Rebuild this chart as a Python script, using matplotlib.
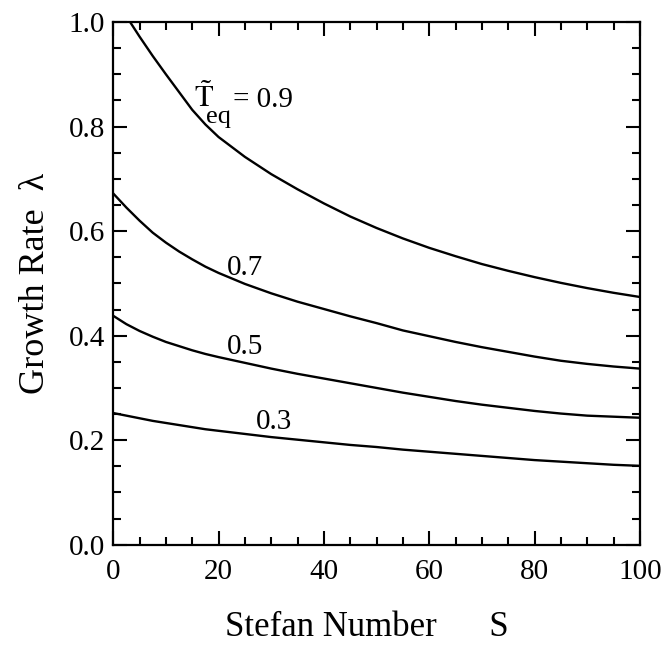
import matplotlib
matplotlib.use("Agg")
import matplotlib.pyplot as plt
from matplotlib.ticker import MultipleLocator

plt.rcParams['font.family'] = ['Liberation Serif', 'DejaVu Serif']
plt.rcParams['mathtext.fontset'] = 'stix'

# curves: growth rate vs Stefan number, one per T_eq
s_09 = [3.2, 5, 7.5, 10, 12.5, 15, 17.5, 20, 25, 30, 35, 40, 45, 50,
        55, 60, 65, 70, 75, 80, 85, 90, 95, 100]
lam_09 = [1.0, 0.972, 0.935, 0.900, 0.866, 0.832, 0.804, 0.780, 0.742, 0.709, 0.680, 0.653, 0.628, 0.606,
          0.586, 0.568, 0.552, 0.537, 0.524, 0.512, 0.501, 0.491, 0.482, 0.474]

s_std = [0, 2.5, 5, 7.5, 10, 12.5, 15, 17.5, 20, 25, 30, 35, 40, 45, 50,
         55, 60, 65, 70, 75, 80, 85, 90, 95, 100]
lam_07 = [0.672, 0.645, 0.620, 0.597, 0.578, 0.561, 0.546, 0.532, 0.520, 0.499, 0.481, 0.465, 0.451, 0.437, 0.424,
          0.410, 0.399, 0.388, 0.378, 0.369, 0.360, 0.352, 0.346, 0.341, 0.337]
lam_05 = [0.438, 0.422, 0.409, 0.398, 0.388, 0.380, 0.372, 0.365, 0.359, 0.348, 0.337, 0.327, 0.318, 0.309, 0.300,
          0.291, 0.283, 0.275, 0.268, 0.262, 0.256, 0.251, 0.247, 0.245, 0.243]
lam_03 = [0.252, 0.247, 0.242, 0.237, 0.233, 0.229, 0.225, 0.221, 0.218, 0.212, 0.206, 0.201, 0.196, 0.191, 0.187,
          0.182, 0.178, 0.174, 0.170, 0.166, 0.162, 0.159, 0.156, 0.153, 0.151]

fig = plt.figure(figsize=(6.7, 6.47), dpi=100)
ax = fig.add_axes([0.169, 0.158, 0.786, 0.808])

for s, lam in [(s_09, lam_09), (s_std, lam_07), (s_std, lam_05), (s_std, lam_03)]:
    ax.plot(s, lam, color='black', lw=1.7, solid_joinstyle='round')

# curve labels; the T_eq label is built from pieces so the subscript can be big like the original
ax.text(15.3, 0.837, r'$\tilde{\mathrm{T}}$', fontsize=22, ha='left', va='baseline')
ax.text(17.6, 0.806, 'eq', fontsize=19, ha='left', va='baseline')
ax.text(22.7, 0.837, '= 0.9', fontsize=21, ha='left', va='baseline')
ax.text(25, 0.530, '0.7', fontsize=21, ha='center', va='center')
ax.text(25, 0.378, '0.5', fontsize=21, ha='center', va='center')
ax.text(30.5, 0.235, '0.3', fontsize=21, ha='center', va='center')

ax.set_xlim(0, 100)
ax.set_ylim(0, 1.0)
ax.xaxis.set_major_locator(MultipleLocator(20))
ax.xaxis.set_minor_locator(MultipleLocator(5))
ax.yaxis.set_major_locator(MultipleLocator(0.2))
ax.yaxis.set_minor_locator(MultipleLocator(0.05))
ax.yaxis.set_major_formatter(plt.FormatStrFormatter('%.1f'))

ax.tick_params(which='both', direction='in', top=True, right=True, width=1.5)
ax.tick_params(which='major', length=10, labelsize=21)
ax.tick_params(which='minor', length=6)
ax.tick_params(axis='x', which='major', pad=10)
ax.tick_params(axis='y', which='major', pad=6)
for sp in ax.spines.values():
    sp.set_linewidth(1.6)

ax.set_xlabel('Stefan Number      S', fontsize=25, labelpad=19)
ax.xaxis.label.set_x(0.482)
ax.set_ylabel(u'Growth Rate  \u03bb', fontsize=26, labelpad=12)

fig.savefig('out.png', dpi=100)
